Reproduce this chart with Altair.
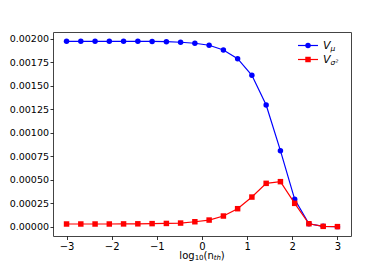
import altair as alt
import pandas as pd

x_vals = [-3.0, -2.684, -2.368, -2.053, -1.737, -1.421, -1.105, -0.789, -0.474, -0.158,
          0.158, 0.474, 0.789, 1.105, 1.421, 1.737, 2.053, 2.368, 2.684, 3.0]
v_mu = [0.001975, 0.001975, 0.001975, 0.001975, 0.001975, 0.001975, 0.001974, 0.001971,
        0.001965, 0.001954, 0.001933, 0.001883, 0.001790, 0.001613, 0.001296, 0.000810,
        0.000292, 0.000032, 0.000004, 0.000001]
v_sigma = [0.000029, 0.000029, 0.000029, 0.000029, 0.000030, 0.000031, 0.000033, 0.000035,
           0.000039, 0.000053, 0.000071, 0.000114, 0.000192, 0.000316, 0.000462, 0.000480,
           0.000249, 0.000032, 0.000004, 0.000001]
series_names = ["V_mu", "V_sigma2"]
series_colors = ["#0000ff", "#ff0000"]
series_shapes = ["circle", "square"]
legend_main = ["V", "V"]
legend_sub = ["\u03bc", "\u03c3\u00b2"]
x_ticks = [-3, -2, -1, 0, 1, 2, 3]
y_ticks = [0, 0.00025, 0.0005, 0.00075, 0.001, 0.00125, 0.0015, 0.00175, 0.002]
# x-axis title pieces: (text, font size, italic, subscript)
title_parts = [("log", 10, False, False), ("10", 7, False, True),
               ("(n", 10, False, False), ("th", 7, True, True), (")", 10, False, False)]
title_widths = [15.3, 8.9, 10.2, 7.0, 3.9]

df = pd.DataFrame({
    "x": x_vals * 2,
    "y": v_mu + v_sigma,
    "s": [series_names[0]] * len(x_vals) + [series_names[1]] * len(x_vals),
})

W, H = 298, 204
xs = alt.Scale(domain=[-3.3, 3.3], nice=False, zero=False)
ys = alt.Scale(domain=[-0.0000988, 0.002074], nice=False, zero=False)

xenc = alt.X("x:Q", scale=xs, axis=alt.Axis(values=x_ticks, format="d", title=None))
yenc = alt.Y("y:Q", scale=ys, axis=alt.Axis(values=y_ticks, format=".5f", title=None))

base = alt.Chart(df)
layers = []
for name, col, shp in zip(series_names, series_colors, series_shapes):
    b = base.transform_filter(alt.datum.s == name)
    layers.append(b.mark_line(color=col, strokeWidth=1.2).encode(x=xenc, y=yenc))
    layers.append(b.mark_point(shape=shp, filled=True, color=col, size=30, opacity=1)
                  .encode(x=xenc, y=yenc))

one = alt.Chart(pd.DataFrame({"k": [0]}))

# manual legend (pixel positions inside plot area)
leg_x0, leg_x1, leg_xm, leg_tx = 245, 265, 255, 270
leg_rows = [13.5, 27.5]
for i, (col, shp) in enumerate(zip(series_colors, series_shapes)):
    ry = leg_rows[i]
    layers.append(one.mark_rule(color=col, strokeWidth=1.2).encode(
        x=alt.value(leg_x0), x2=alt.value(leg_x1), y=alt.value(ry)))
    layers.append(one.mark_point(shape=shp, filled=True, color=col, size=30, opacity=1).encode(
        x=alt.value(leg_xm), y=alt.value(ry)))
    layers.append(one.mark_text(text=legend_main[i], align="left", baseline="middle",
                                fontSize=11, fontStyle="italic", font="DejaVu Sans",
                                color="black").encode(x=alt.value(leg_tx), y=alt.value(ry)))
    layers.append(one.mark_text(text=legend_sub[i], align="left", baseline="middle",
                                fontSize=7.5, fontStyle="italic", font="DejaVu Sans",
                                color="black").encode(x=alt.value(leg_tx + 7.5), y=alt.value(ry + 3)))

# x-axis title built from pieces (for real subscripts)
tx = W / 2 - sum(title_widths) / 2
for (txt, fs, it, sub), w in zip(title_parts, title_widths):
    kw = dict(text=txt, align="left", baseline="middle", fontSize=fs, font="DejaVu Sans",
              color="black")
    if it:
        kw["fontStyle"] = "italic"
    layers.append(one.mark_text(**kw).encode(
        x=alt.value(tx), y=alt.value(H + (22 if sub else 19.5))))
    tx += w

chart = alt.layer(*layers).properties(
    width=W, height=H,
    autosize=alt.AutoSizeParams(type="none"),
    padding={"left": 45, "top": 24, "right": 30, "bottom": 30},
).configure_view(
    stroke="#444", strokeWidth=1
).configure_axis(
    grid=False, domain=False,
    labelFont="DejaVu Sans", labelFontSize=10, labelColor="black",
    tickColor="black", tickSize=3.5, tickWidth=0.8, labelPadding=2,
).configure_axisY(labelFlush=False, labelFontSize=9.5, labelPadding=1.5, tickSize=3
).configure_axisX(labelFlush=False)

chart.save("out.html", embed_options={"renderer": "svg", "actions": False})
